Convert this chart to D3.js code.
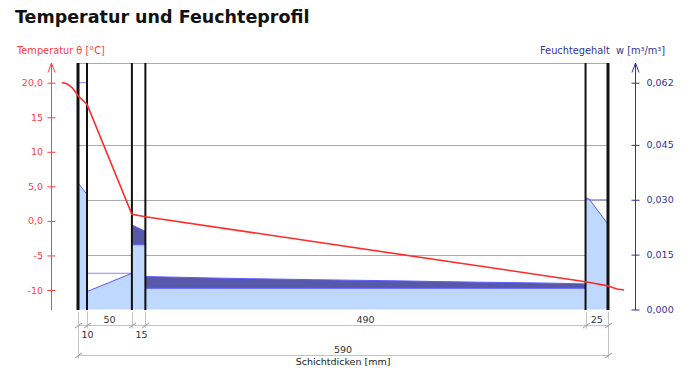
<!DOCTYPE html>
<html>
<head>
<meta charset="utf-8">
<script src="https://cdn.jsdelivr.net/npm/d3@7"></script>
<style>
  body { margin: 0; background: #fff; }
  svg text { font-family: "DejaVu Sans", Verdana, sans-serif; }
</style>
</head>
<body>
<div id="chart_area"></div>
<script>

// Schichtdicken [mm]
var layerThick = [10, 50, 15, 490, 25];

// Temperaturverlauf: [Position mm, Temperatur °C]
var tempProfile = [
  [-18, 20.0], [-15, 19.95], [-12, 19.8], [-9, 19.55], [-6, 19.2], [-3, 18.7],
  [0, 18.1], [10, 16.9], [60, 0.95], [75, 0.6], [565, -8.8], [590, -9.4],
  [595, -9.65], [600, -9.85], [608, -10.0]
];

// Feuchtegehalt je Schicht (Oberkante): [Position mm, w m³/m³]
var wTop = [
  [[0, 0.0346], [10, 0.0315]],
  [[10, 0.0049], [60, 0.0099]],
  [[60, 0.0231], [75, 0.0214]],
  [[75, 0.0090], [108, 0.00884], [147, 0.00862], [191, 0.00843], [228, 0.00829],
   [262, 0.00815], [301, 0.00802], [366, 0.0078], [395, 0.00766], [447, 0.00747],
   [492, 0.00733], [529, 0.0072], [565, 0.0070]],
  [[565, 0.0304], [569, 0.0302], [590, 0.0233]]
];
// hellblauer Anteil (Unterkante des dunklen Bandes)
var wBase = [null, null, 0.0177, 0.0058, null];
// Bezugslinien je Schicht
var wRef = [0.062, 0.0099, null, null, 0.030];

var tempTicks = [20, 15, 10, 5, 0, -5, -10];
var tempLabels = ["20,0", "15", "10", "5,0", "0,0", "-5", "-10"];
var wTicks = [0, 0.015, 0.030, 0.045, 0.062];
var wLabels = ["0,000", "0,015", "0,030", "0,045", "0,062"];

var frame_width = 698, frame_height = 373;
var plot_top = 63, plot_bottom = 310;

var red = "#ff4040", navy = "#333399";
var lightFill = "#bfd8ff", darkFill = "#5858aa", outline = "#5c5cff";
var gridCol = "#ababab", dimCol = "#c4c4c4";

var frame = d3.select("#chart_area").append("svg")
  .attr("width", frame_width)
  .attr("height", frame_height);

// layer boundaries in mm
var bounds = [0];
layerThick.forEach(function (t) { bounds.push(bounds[bounds.length - 1] + t); });
var total = bounds[bounds.length - 1];

var xScale = d3.scaleLinear().domain([0, total]).range([78, 608]);
var yT = d3.scaleLinear().domain([-10, 20]).range([290, 82.7]);
var yW = d3.scaleLinear().domain([0, 0.062]).range([309.5, 82.7]);

// title
frame.append("text")
  .attr("x", 15).attr("y", 22.5)
  .attr("font-size", 17.5).attr("font-weight", "bold")
  .attr("fill", "#111")
  .text("Temperatur und Feuchteprofil");

// horizontal grid (on moisture ticks) + top line
var grid = frame.append("g");
[0.015, 0.030, 0.045].forEach(function (v) {
  grid.append("line")
    .attr("x1", xScale(0)).attr("x2", xScale(total))
    .attr("y1", Math.round(yW(v)) + 0.5).attr("y2", Math.round(yW(v)) + 0.5)
    .attr("stroke", gridCol);
});
grid.append("line")
  .attr("x1", xScale(0)).attr("x2", xScale(total))
  .attr("y1", plot_top + 0.5).attr("y2", plot_top + 0.5)
  .attr("stroke", gridCol);

// moisture areas
var fills = frame.append("g");
var lineW = d3.line().x(function (d) { return xScale(d[0]); }).y(function (d) { return yW(d[1]); });

wTop.forEach(function (pts, i) {
  var base = wBase[i];
  var lightPts = base == null ? pts : [[pts[0][0], base], [pts[pts.length - 1][0], base]];

  fills.append("path")
    .datum(lightPts)
    .attr("fill", lightFill)
    .attr("d", d3.area()
      .x(function (d) { return xScale(d[0]); })
      .y0(yW(0))
      .y1(function (d) { return yW(d[1]); }));

  if (base != null) {
    fills.append("path")
      .datum(pts)
      .attr("fill", darkFill)
      .attr("d", d3.area()
        .x(function (d) { return xScale(d[0]); })
        .y0(yW(base))
        .y1(function (d) { return yW(d[1]); }));
    fills.append("path")
      .datum(lightPts)
      .attr("fill", "none").attr("stroke", outline).attr("stroke-width", 1)
      .attr("d", lineW);
  }

  fills.append("path")
    .datum(pts)
    .attr("fill", "none").attr("stroke", outline).attr("stroke-width", 1)
    .attr("d", lineW);

  if (wRef[i] != null) {
    fills.append("line")
      .attr("x1", xScale(bounds[i])).attr("x2", xScale(bounds[i + 1]))
      .attr("y1", yW(wRef[i])).attr("y2", yW(wRef[i]))
      .attr("stroke", outline).attr("stroke-opacity", 0.75);
  }
});

// layer walls
frame.append("g").selectAll("line")
  .data(bounds)
  .enter().append("line")
  .attr("x1", function (d) { return xScale(d); })
  .attr("x2", function (d) { return xScale(d); })
  .attr("y1", plot_top).attr("y2", plot_bottom)
  .attr("stroke", "#111")
  .attr("stroke-width", function (d, i) { return (i == 0 || i == bounds.length - 1) ? 3 : 2; });

// left axis (temperature)
var leftX = 51.5;
var yAxisL = d3.axisLeft(yT).tickValues(tempTicks)
  .tickFormat(function (d, i) { return tempLabels[i]; })
  .tickSize(4).tickPadding(4.5);
var gL = frame.append("g")
  .attr("transform", "translate(" + leftX + ",0)")
  .call(yAxisL);
gL.select(".domain").remove();
gL.selectAll(".tick line").attr("x1", 4).attr("stroke", red);
gL.selectAll(".tick text").attr("fill", red).attr("font-size", 9.5)
  .attr("font-family", "DejaVu Sans, Verdana, sans-serif");
gL.append("line").attr("x1", 0).attr("x2", 0).attr("y1", plot_top).attr("y2", plot_bottom).attr("stroke", red);
gL.append("path").attr("d", "M-3.5,72.5L0,63L3.5,72.5").attr("fill", "none").attr("stroke", red);
frame.append("text").attr("x", 17).attr("y", 54).attr("font-size", 9.8).attr("fill", red)
  .text("Temperatur \u03b8 [°C]");

// right axis (moisture)
var rightX = 635.5;
var yAxisR = d3.axisRight(yW).tickValues(wTicks)
  .tickFormat(function (d, i) { return wLabels[i]; })
  .tickSize(4).tickPadding(7);
var gR = frame.append("g")
  .attr("transform", "translate(" + rightX + ",0)")
  .call(yAxisR);
gR.select(".domain").remove();
gR.selectAll(".tick line").attr("x1", -4).attr("stroke", navy);
gR.selectAll(".tick text").attr("fill", navy).attr("font-size", 9.5)
  .attr("font-family", "DejaVu Sans, Verdana, sans-serif");
gR.append("line").attr("x1", 0).attr("x2", 0).attr("y1", plot_top).attr("y2", plot_bottom).attr("stroke", navy);
gR.append("path").attr("d", "M-3.5,72.5L0,63L3.5,72.5").attr("fill", "none").attr("stroke", navy);
frame.append("text").attr("x", 540).attr("y", 54).attr("font-size", 9.8).attr("fill", navy)
  .attr("xml:space", "preserve")
  .text("Feuchtegehalt  w [m³/m³]");

// temperature line
frame.append("path")
  .datum(tempProfile)
  .attr("fill", "none").attr("stroke", "#ff2a2a").attr("stroke-width", 1.6)
  .attr("d", d3.line()
    .x(function (d) { return xScale(d[0]); })
    .y(function (d) { return yT(d[1]); }));

// dimension lines (Schichtdicken)
var dim = frame.append("g");
var row1 = 325.5, row2 = 355.5;
function slash(x, y) {
  dim.append("line").attr("x1", x - 3.5).attr("y1", y + 2.5).attr("x2", x + 3.5).attr("y2", y - 2.5)
    .attr("stroke", "#999");
}
dim.append("line").attr("x1", xScale(0)).attr("x2", xScale(total)).attr("y1", row1).attr("y2", row1).attr("stroke", dimCol);
dim.append("line").attr("x1", xScale(0)).attr("x2", xScale(total)).attr("y1", row2).attr("y2", row2).attr("stroke", dimCol);
bounds.forEach(function (b, i) {
  var outer = (i == 0 || i == bounds.length - 1);
  var xx = Math.round(xScale(b)) + 0.5;
  dim.append("line").attr("x1", xx).attr("x2", xx)
    .attr("y1", 312).attr("y2", outer ? row2 + 3 : row1 + 3)
    .attr("stroke", dimCol);
  slash(xx, row1);
  if (outer) slash(xx, row2);
});
layerThick.forEach(function (t, i) {
  var x0 = xScale(bounds[i]), x1 = xScale(bounds[i + 1]);
  var narrow = (x1 - x0) < 20;
  dim.append("text")
    .attr("x", narrow ? x0 + 3.5 : (x0 + x1) / 2)
    .attr("y", narrow ? 337.5 : 322.7)
    .attr("text-anchor", narrow ? "start" : "middle")
    .attr("font-size", 9.5).attr("fill", "#333")
    .text(t);
});
dim.append("text").attr("x", (xScale(0) + xScale(total)) / 2).attr("y", 353.3)
  .attr("text-anchor", "middle").attr("font-size", 9.5).attr("fill", "#333").text(total);
dim.append("text").attr("x", (xScale(0) + xScale(total)) / 2).attr("y", 365)
  .attr("text-anchor", "middle").attr("font-size", 9.5).attr("fill", "#222").text("Schichtdicken [mm]");

</script>
</body>
</html>
